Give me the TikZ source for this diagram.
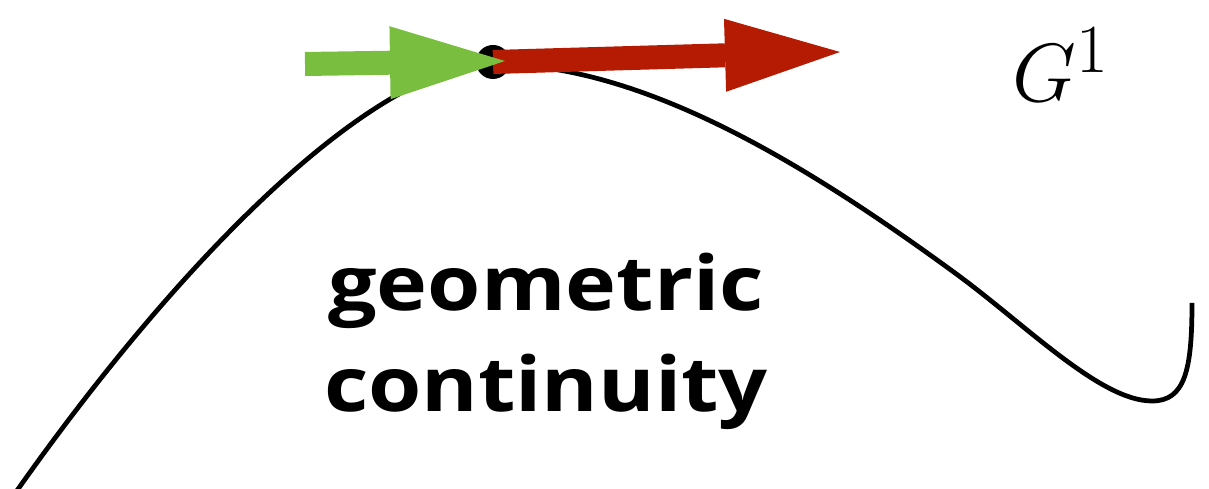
\documentclass[tikz,border=0pt]{standalone}
\usepackage{fontspec}
\setsansfont{Open Sans}
\usetikzlibrary{arrows.meta}
\definecolor{tangentgreen}{RGB}{122,190,64}
\definecolor{tangentred}{RGB}{181,26,2}
\tikzset{
curve/.style={
draw,
line width=2.7pt
},
tangent/.style={
line width=4.8mm,
-{Triangle[length=23mm,width=14.6mm,line width=0pt]}
},
joint/.style={
circle,
fill=black,
inner sep=0pt,
minimum size=6.8mm
},
caption/.style={
align=center,
xscale=1.14,
font=\sffamily\bfseries\fontsize{43}{57.5}\selectfont
}
}

\begin{document}
\begin{tikzpicture}[x=0.2mm,y=-0.2mm]
\useasboundingbox (0,0) rectangle (1209,489);
\draw[curve](16,492) .. controls (190,245) and (380,64) .. (493,64)
 .. controls (643,64) and (805,163.5) .. (955,273)
 .. controls (1025,324) and (1100,401) .. (1152,401)
 .. controls (1185,401) and (1192,370) .. (1192,303);
\node[joint](p) at (493,62){};
\coordinate (gtail) at (305,64);
\coordinate (gtip) at (505,61);
\coordinate (rtip) at (840,52);
\draw[tangent,tangentred](p.center)--(rtip);
\draw[tangent,tangentgreen](gtail)--(gtip);
\node[anchor=base west,inner sep=0pt,font=\Huge,scale=1.89](g) at (1012,102){$G^1$};
\node[caption](t) at (546,341){geometric\\continuity};
\end{tikzpicture}
\end{document}
